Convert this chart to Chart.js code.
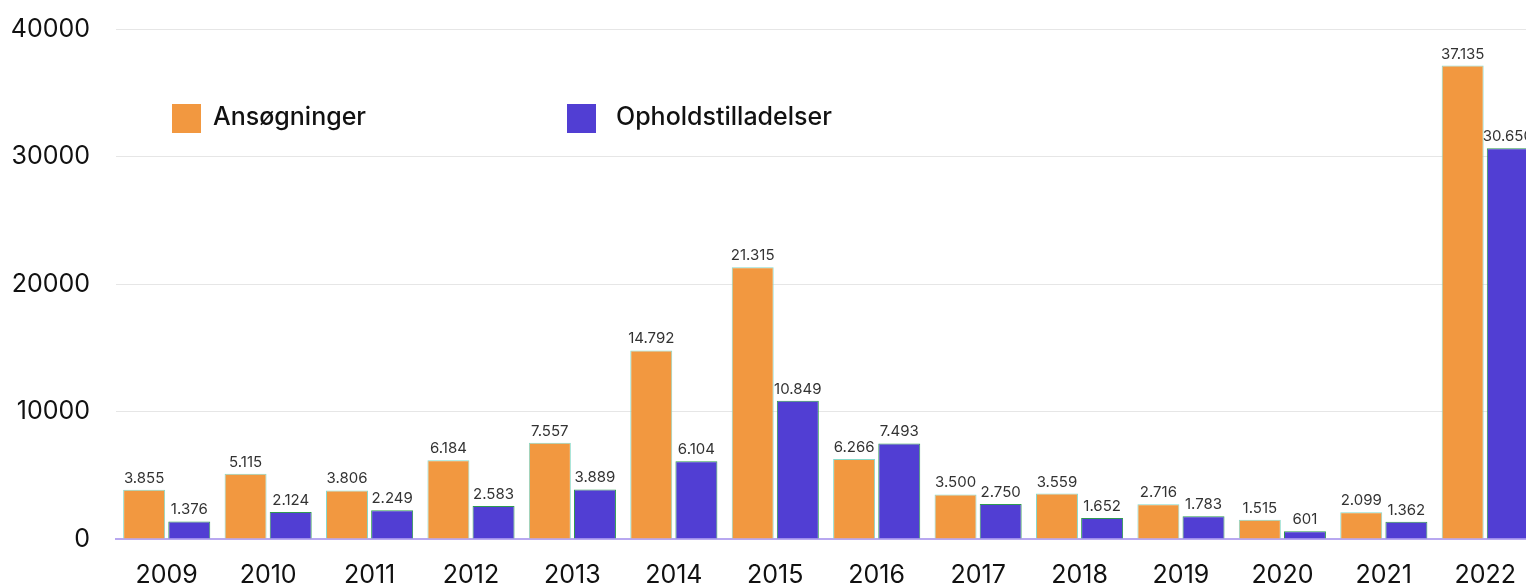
<!DOCTYPE html>
<html>
<head>
<meta charset="utf-8">
<script src="https://cdn.jsdelivr.net/npm/chart.js@4/dist/chart.umd.min.js"></script>
<style>
html,body{margin:0;padding:0;background:#fff;overflow:hidden;width:1526px;height:588px;}
#wrap{position:relative;width:1537px;height:600px;margin-top:-12px;}
</style>
</head>
<body>
<div id="wrap"><canvas id="c"></canvas></div>
<script>
const years = ['2009','2010','2011','2012','2013','2014','2015','2016','2017','2018','2019','2020','2021','2022'];
const ansoegninger = [3855, 5115, 3806, 6184, 7557, 14792, 21315, 6266, 3500, 3559, 2716, 1515, 2099, 37135];
const opholdstilladelser = [1376, 2124, 2249, 2583, 3889, 6104, 10849, 7493, 2750, 1652, 1783, 601, 1362, 30650];
const yTicks = [0, 10000, 20000, 30000, 40000];

function fmt(v){ return String(v).replace(/\B(?=(\d{3})+(?!\d))/g, '.'); }

const FONT = 'Inter, "Liberation Sans", sans-serif';

const valueLabels = {
  id: 'valueLabels',
  afterDatasetsDraw(chart){
    const ctx = chart.ctx;
    ctx.save();
    ctx.font = '15px ' + FONT;
    ctx.fillStyle = '#333';
    ctx.textAlign = 'center';
    ctx.textBaseline = 'bottom';
    chart.data.datasets.forEach((ds, i) => {
      chart.getDatasetMeta(i).data.forEach((bar, j) => {
        ctx.fillText(fmt(ds.data[j]), bar.x, bar.y - 4);
      });
    });
    ctx.restore();
  }
};

const customLegend = {
  id: 'customLegend',
  afterDraw(chart){
    const ctx = chart.ctx;
    const pos = [{x:172, y:116, tx:213}, {x:567, y:116, tx:616}];
    ctx.save();
    ctx.font = '500 25px ' + FONT;
    ctx.textBaseline = 'middle';
    ctx.textAlign = 'left';
    chart.data.datasets.forEach((ds, i) => {
      const p = pos[i];
      ctx.fillStyle = ds.backgroundColor;
      ctx.fillRect(p.x, p.y, 29, 29);
      ctx.fillStyle = '#111';
      ctx.fillText(ds.label, p.tx, p.y + 13);
    });
    ctx.restore();
  }
};

new Chart(document.getElementById('c'), {
  type: 'bar',
  data: {
    labels: years,
    datasets: [
      { label: 'Ansøgninger', data: ansoegninger, backgroundColor: '#f29840', borderColor: '#86d9c9', borderWidth: 1, categoryPercentage: 0.89, barPercentage: 0.93 },
      { label: 'Opholdstilladelser', data: opholdstilladelser, backgroundColor: '#513ed3', borderColor: '#2f9a52', borderWidth: 1, categoryPercentage: 0.89, barPercentage: 0.93 }
    ]
  },
  options: {
    responsive: true,
    maintainAspectRatio: false,
    animation: false,
    layout: { padding: { top: 0, left: 0, right: 0, bottom: 0 } },
    plugins: { legend: { display: false }, tooltip: { enabled: false } },
    scales: {
      x: {
        grid: { display: false, drawTicks: false },
        border: { display: true, color: '#b8a8f0', width: 2 },
        ticks: { color: '#111', font: { size: 25, family: FONT }, padding: 21, maxRotation: 0, autoSkip: false },
        afterFit(s){ s.height = 49; }
      },
      y: {
        min: 0, max: 40000,
        afterBuildTicks(s){ s.ticks = yTicks.map(v => ({ value: v })); },
        grid: { color: '#e6e6e6', drawTicks: false },
        border: { display: false },
        ticks: { color: '#111', font: { size: 25, family: FONT }, padding: 26, callback: v => String(v) },
        afterFit(s){ s.width = 116; }
      }
    }
  },
  plugins: [valueLabels, customLegend]
});
</script>
</body>
</html>
